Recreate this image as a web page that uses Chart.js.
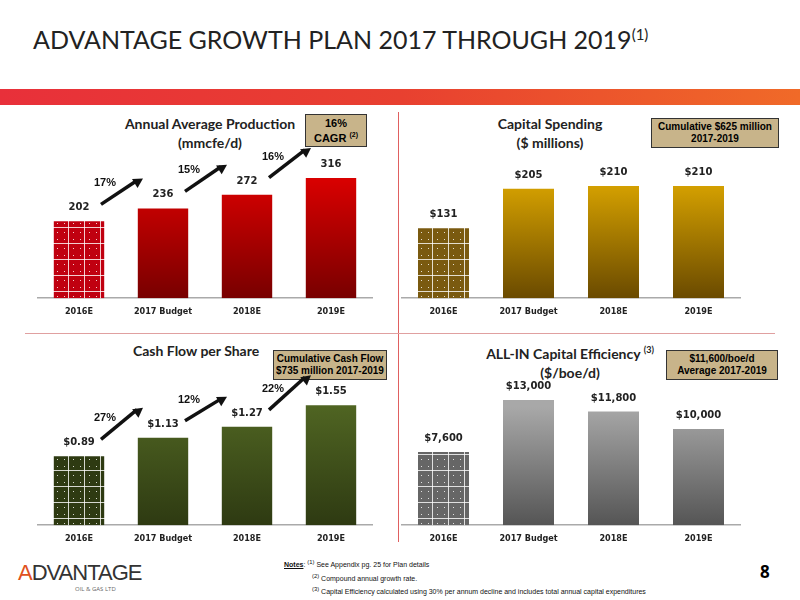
<!DOCTYPE html>
<html><head><meta charset="utf-8">
<script src="https://cdn.jsdelivr.net/npm/chart.js@4"></script>
<style>
body{margin:0;width:800px;height:600px;background:#fff;position:relative;overflow:hidden;font-family:"Open Sans",sans-serif}
.abs{position:absolute}
canvas{position:absolute}
.t{font-family:Lato,sans-serif;font-weight:bold;font-size:14px;color:#222;text-align:center;line-height:19px}
.box{background:#c8b48a;border:1px solid #333;font-family:"Liberation Sans",sans-serif;font-weight:bold;font-size:10px;text-align:center;line-height:12px;padding:2px 0}
</style></head><body>
<div class="abs" style="left:33px;top:24px;font-size:25px;color:#222;font-family:Lato,sans-serif">ADVANTAGE GROWTH PLAN 2017 THROUGH 2019<sup style="font-size:15px">(1)</sup></div>
<div class="abs" style="left:0;top:89px;width:800px;height:16px;background:linear-gradient(90deg,#e8303a,#e84030 50%,#f06a28)"></div>
<div class="abs" style="left:398px;top:112px;width:1px;height:430px;background:#e06060"></div>
<div class="abs" style="left:25px;top:333px;width:750px;height:1px;background:#e0a0a0"></div>

<div class="abs t" style="left:110px;top:114px;width:200px">Annual Average Production<br>(mmcfe/d)</div>
<div class="abs box" style="left:305px;top:114px;width:60px;font-size:11px">16%<br>CAGR <sup style="font-size:7px">(2)</sup></div>
<div class="abs t" style="left:470px;top:114px;width:160px">Capital Spending<br>($ millions)</div>
<div class="abs box" style="left:651px;top:118px;width:126px">Cumulative $625 million<br>2017-2019</div>
<div class="abs t" style="left:133px;top:341px;width:150px;text-align:left">Cash Flow per Share</div>
<div class="abs box" style="left:273px;top:350px;width:112px">Cumulative Cash Flow<br>$735 million 2017-2019</div>
<div class="abs t" style="left:470px;top:340px;width:200px">ALL-IN Capital Efficiency <sup style="font-size:9px">(3)</sup><br>($/boe/d)</div>
<div class="abs box" style="left:666px;top:350px;width:110px">$11,600/boe/d<br>Average 2017-2019</div>

<canvas id="c1" width="336" height="225" style="left:37px;top:100px"></canvas>
<canvas id="c2" width="340" height="225" style="left:401px;top:100px"></canvas>
<canvas id="c3" width="336" height="225" style="left:37px;top:327px"></canvas>
<canvas id="c4" width="340" height="225" style="left:401px;top:327px"></canvas>

<div class="abs" style="left:18px;top:560px;font-size:22px;color:#333;font-family:'Liberation Sans',sans-serif;letter-spacing:-1px"><span style="color:#e05020">A</span>DVANTAGE</div>
<div class="abs" style="left:75px;top:585px;font-size:6px;color:#666">OIL &amp; GAS LTD</div>
<div class="abs" style="left:284px;top:557px;font-size:7px;line-height:10px;color:#111;font-family:'Liberation Sans Narrow','Liberation Sans',sans-serif">
<u><b>Notes</b></u>: <sup>(1)</sup> See Appendix pg. 25 for Plan details<br>
<span style="margin-left:28px"><sup>(2)</sup> Compound annual growth rate.</span><br>
<span style="margin-left:28px"><sup>(3)</sup> Capital Efficiency calculated using 30% per annum decline and includes total annual capital expenditures</span></div>
<div class="abs" style="left:760px;top:560px;font-size:17px;font-weight:bold">8</div>

<script>
const categories = ["2016E", "2017 Budget", "2018E", "2019E"];
const production = [202, 236, 272, 316];
const capital = [131, 205, 210, 210];
const cashFlow = [0.89, 1.13, 1.27, 1.55];
const efficiency = [7600, 13000, 11800, 10000];
const prodGrowth = ["17%", "15%", "16%"];
const cfGrowth = ["27%", "12%", "22%"];

function pattern(color) {
  const p = document.createElement("canvas");
  p.width = 16; p.height = 16;
  const g = p.getContext("2d");
  g.fillStyle = color; g.fillRect(0, 0, 16, 16);
  g.fillStyle = "rgba(255,255,255,0.8)";
  g.fillRect(15, 0, 1, 16); g.fillRect(0, 15, 16, 1);
  g.fillRect(4, 4, 1, 1); g.fillRect(11, 4, 1, 1); g.fillRect(4, 11, 1, 1); g.fillRect(11, 11, 1, 1);
  return g.createPattern(p, "repeat");
}

function makeChart(id, values, max, top, bottom, patColor, fmt, growth) {
  const ctx = document.getElementById(id).getContext("2d");
  const grad = ctx.createLinearGradient(0, 80, 0, 198);
  grad.addColorStop(0, top); grad.addColorStop(1, bottom);
  const pat = pattern(patColor);

  const labelsPlugin = {
    id: "labels",
    afterDatasetsDraw(chart) {
      const c = chart.ctx;
      const bars = chart.getDatasetMeta(0).data;
      c.save();
      c.font = "bold 10px 'DejaVu Sans'";
      c.fillStyle = "#222";
      c.textAlign = "center";
      bars.forEach((b, i) => c.fillText(fmt(values[i]), b.x, b.y - 11));
      if (growth) {
        for (let i = 0; i < 3; i++) {
          const a = bars[i], b = bars[i + 1];
          const x1 = a.x + 22, y1 = a.y - 17, x2 = b.x - 20, y2 = b.y - 30;
          c.strokeStyle = "#111"; c.lineWidth = 3.5;
          c.beginPath(); c.moveTo(x1, y1); c.lineTo(x2 - 6, y2 + 2); c.stroke();
          const ang = Math.atan2(y2 - y1, x2 - x1);
          c.fillStyle = "#111";
          c.beginPath();
          c.moveTo(x2, y2);
          c.lineTo(x2 - 11 * Math.cos(ang - 0.5), y2 - 11 * Math.sin(ang - 0.5));
          c.lineTo(x2 - 11 * Math.cos(ang + 0.5), y2 - 11 * Math.sin(ang + 0.5));
          c.fill();
          c.font = "bold 11px 'Liberation Sans'";
          c.fillText(growth[i], x1 + 4, y1 - 18);
        }
      }
      c.restore();
    }
  };

  new Chart(ctx, {
    type: "bar",
    data: {
      labels: categories,
      datasets: [{
        data: values,
        backgroundColor: values.map((v, i) => i === 0 ? pat : grad),
        barPercentage: 0.6,
        categoryPercentage: 1
      }]
    },
    options: {
      responsive: false,
      animation: false,
      layout: { padding: 0 },
      plugins: { legend: { display: false }, tooltip: { enabled: false } },
      scales: {
        y: { display: false, min: 0, max: max },
        x: {
          grid: { display: false, drawTicks: false },
          border: { color: "#aaa", width: 1.5 },
          ticks: { color: "#222", font: { family: "'DejaVu Sans Condensed','DejaVu Sans'", size: 9, weight: "bold" }, padding: 8 }
        }
      }
    },
    plugins: [labelsPlugin]
  });
}

makeChart("c1", production, 521, "#d80000", "#780000", "#c00010", v => v, prodGrowth);
makeChart("c2", capital, 371, "#d9a400", "#6a4a00", "#7a5a10", v => "$" + v, null);
makeChart("c3", cashFlow, 2.56, "#4f6422", "#2e3a12", "#2e3a12", v => "$" + v.toFixed(2), cfGrowth);
makeChart("c4", efficiency, 20592, "#a8a8a8", "#555", "#666", v => "$" + v.toLocaleString("en-US"), null);
</script>
</body></html>
